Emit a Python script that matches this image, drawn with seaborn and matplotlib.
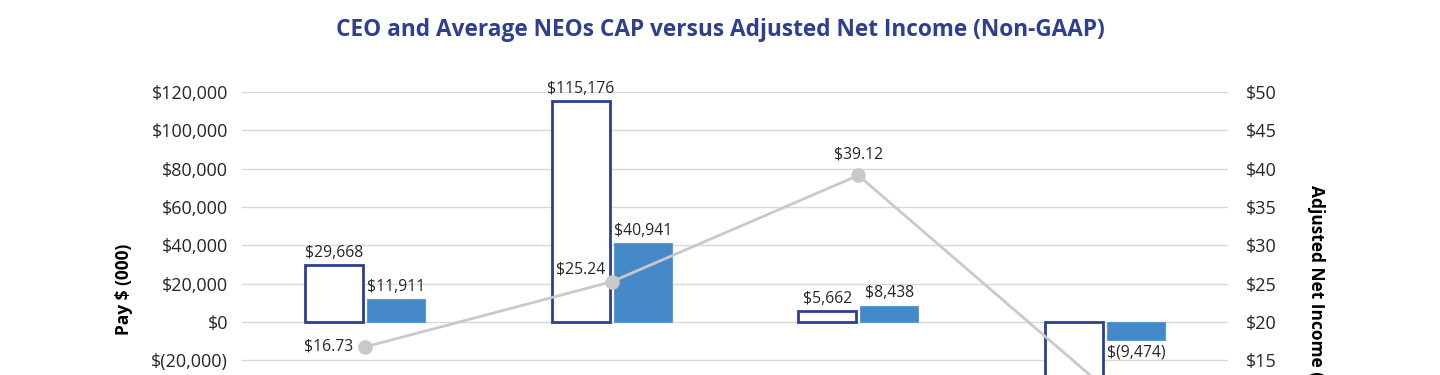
import pandas as pd
import matplotlib.pyplot as plt
import seaborn as sns
from matplotlib.ticker import FuncFormatter

# data
years = ["2020", "2021", "2022", "2023"]
ceo_cap = [29668, 115176, 5662, -31500]
neo_cap = [11911, 40941, 8438, -9474]
adj_net_income = [16.73, 25.24, 39.12, 11.38]
series_names = ["CEO CAP", "Average NEOs CAP"]

navy = "#2E3E92"
blue = "#4589C8"
grey = "#C9C9C9"
text_col = "#262626"

sns.set_theme(style="white")
plt.rcParams["font.family"] = ["Open Sans", "DejaVu Sans"]
plt.rcParams["text.color"] = text_col
plt.rcParams["xtick.color"] = text_col
plt.rcParams["ytick.color"] = text_col

df = pd.DataFrame({
    "year": years * 2,
    "series": [series_names[0]] * 4 + [series_names[1]] * 4,
    "value": ceo_cap + neo_cap,
})


def money(v):
    return f"${v:,.0f}" if v >= 0 else f"$({-v:,.0f})"


fig = plt.figure(figsize=(14.4, 3.75), dpi=100)
# chart is cropped at the bottom in the reference, so the axes run below the canvas
ax = fig.add_axes([0.1681, -0.2667, 0.6847, 1.0213])

sns.barplot(data=df, x="year", y="value", hue="series", hue_order=series_names,
            palette=["white", blue], saturation=1, width=0.504, gap=0.067,
            errorbar=None, legend=False, ax=ax)

for i, cont in enumerate(ax.containers):
    for p in cont:
        if i == 0:
            p.set_facecolor("white")
            p.set_edgecolor(navy)
            p.set_linewidth(2)
        else:
            p.set_edgecolor("#5B9BD5")
            p.set_linewidth(0.8)
    vals = ceo_cap if i == 0 else neo_cap
    # the last CEO label falls below the visible area
    labels = [money(v) if not (i == 0 and v < -20000) else "" for v in vals]
    ax.bar_label(cont, labels=labels, padding=3, fontsize=11.3, color=text_col)

ax.set_ylim(-80000, 120000)
ax.set_yticks(range(-80000, 120001, 20000))
ax.yaxis.set_major_formatter(
    FuncFormatter(lambda v, _: money(v) if v >= -20000 else ""))
ax.tick_params(axis="y", labelsize=13, pad=10, length=0)
ax.tick_params(axis="x", length=0, labelbottom=False)
ax.yaxis.grid(True, color="#D9D9D9", linewidth=1)
ax.set_axisbelow(True)
ax.set_xlabel("")
ax.set_ylabel("")
sns.despine(ax=ax, left=True, bottom=True)

ax2 = ax.twinx()
sns.pointplot(x=years, y=adj_net_income, ax=ax2, color=grey, markers="o",
              markersize=9, linewidth=2, errorbar=None)
ax2.set_ylim(0, 50)
ax2.set_yticks(range(0, 51, 5))
ax2.yaxis.set_major_formatter(
    FuncFormatter(lambda v, _: f"${v:.0f}" if v >= 15 else ""))
ax2.tick_params(axis="y", labelsize=13, pad=13, length=0)
ax2.tick_params(axis="x", length=0, labelbottom=False)
ax2.set_ylabel("")
ax2.set_xlabel("")
ax2.grid(False)
for s in ax2.spines.values():
    s.set_visible(False)

# point labels (last one is off the visible area)
offsets = [((-9, 0), "right", "center"), ((-5, 9), "right", "center"),
           ((0, 9), "center", "bottom")]
for i, v in enumerate(adj_net_income[:3]):
    (dx, dy), ha, va = offsets[i]
    ax2.annotate(f"${v:.2f}", (i, v), xytext=(dx, dy), textcoords="offset points",
                 ha=ha, va=va, fontsize=11.3, color=text_col)

fig.text(0.5, 1 - 30 / 375, "CEO and Average NEOs CAP versus Adjusted Net Income (Non-GAAP)",
         ha="center", va="center", fontsize=16.3, fontweight="bold", color=navy)
fig.text(124 / 1440, 1 - 289.5 / 375, "Pay $ (000)", rotation=90, ha="center", va="center",
         fontsize=12.5, fontweight="bold", color="black")
fig.text(1316 / 1440, 1 - 185 / 375, "Adjusted Net Income (millions)", rotation=270,
         ha="center", va="top", fontsize=12.5, fontweight="bold", color="black")

fig.savefig("out.png", dpi=100)
